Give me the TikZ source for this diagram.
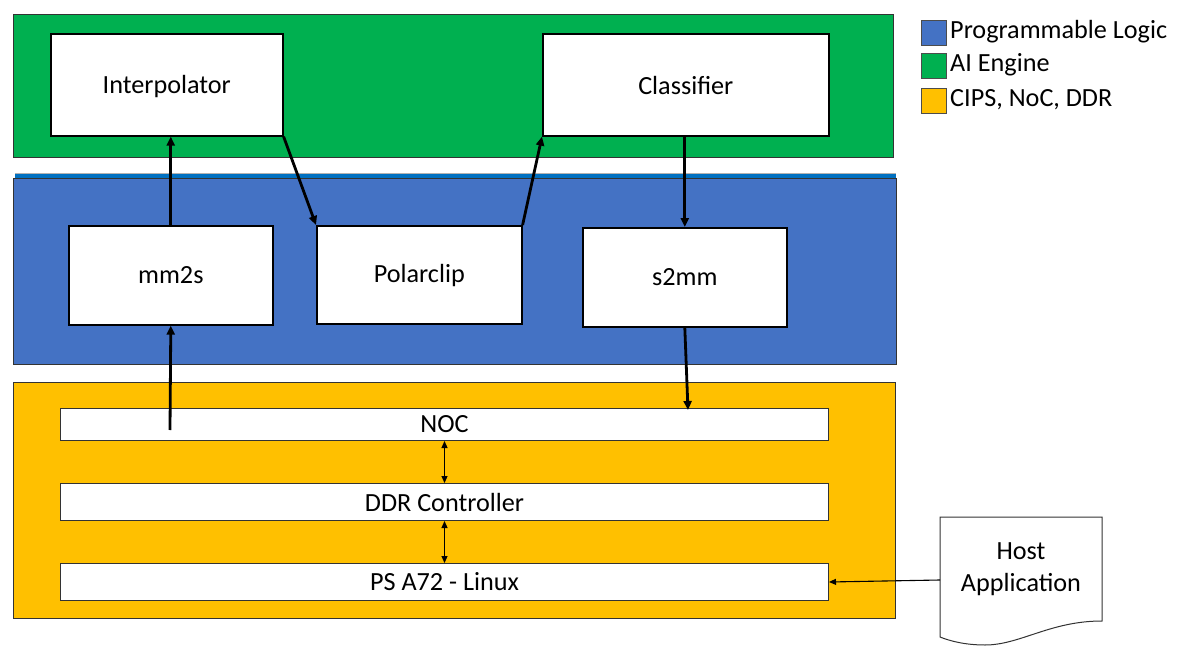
\documentclass[tikz,border=0pt]{standalone}
\usepackage{fontspec}
\setmainfont{Carlito}
\usetikzlibrary{arrows.meta}
\definecolor{aigreen}{HTML}{00B050}
\definecolor{plblue}{HTML}{4472C4}
\definecolor{stripblue}{HTML}{0070C0}
\definecolor{cipsyellow}{HTML}{FFC000}
\begin{document}
\begin{tikzpicture}[x=1pt,y=-1pt,
  every node/.style={font=\fontsize{26.2}{32}\selectfont},
  region/.style={draw=black!80,line width=1pt},
  blockbox/.style={draw=black,fill=white,line width=1.6pt,inner sep=0pt,anchor=north west},
  barbox/.style={draw=black!80,fill=white,line width=1pt,inner sep=0pt,anchor=north west},
  thickarrow/.style={line width=2.8pt,-{Triangle[length=9pt,width=8pt]}},
  thinarrow/.style={line width=1.1pt,-{Triangle[length=7pt,width=6pt]}},
  thinboth/.style={line width=1.1pt,{Triangle[length=7pt,width=6pt]}-{Triangle[length=7pt,width=6pt]}},
  legendsq/.style={draw=black!70,line width=1pt,minimum width=25pt,minimum height=25pt,inner sep=0pt,anchor=north west},
  legendtxt/.style={anchor=west,inner sep=0pt}]
\useasboundingbox (0,0) rectangle (1181,658);
% regions
\fill[white] (0,0) rectangle (1181,658);
\draw[region,fill=aigreen] (13,15) rectangle (893,158);
\fill[stripblue] (15,173) rectangle (896,179);
\draw[black!30,line width=0.6pt] (15,173) -- (896,173);
\draw[region,fill=plblue] (13,179) rectangle (896,364);
\draw[region,fill=cipsyellow] (13,382) rectangle (895,618);
% blocks
\node[blockbox,minimum width=232pt,minimum height=102pt] (interp) at (50,33) {};
\node at ([yshift=-1.5pt]interp.center) {Interpolator};
\node[blockbox,minimum width=286pt,minimum height=102pt] (classif) at (542,33) {};
\node at ([yshift=-1pt]classif.center) {Classifier};
\node[blockbox,minimum width=204pt,minimum height=99pt] (mm2s) at (68,225) {};
\node at (mm2s.center) {mm2s};
\node[blockbox,minimum width=205pt,minimum height=98pt] (polar) at (316,225) {};
\node at ([yshift=-1pt]polar.center) {Polarclip};
\node[blockbox,minimum width=204pt,minimum height=99pt] (s2mm) at (582,227) {};
\node at (s2mm.center) {s2mm};
\node[barbox,minimum width=768pt,minimum height=32pt] (noc) at (60,408) {};
\node at (noc.center) {NOC};
\node[barbox,minimum width=768pt,minimum height=37pt] (ddr) at (60,483) {};
\node at (ddr.center) {DDR Controller};
\node[barbox,minimum width=768pt,minimum height=37pt] (ps) at (60,563) {};
\node at (ps.center) {PS A72 - Linux};
% host application document
\coordinate (hostwest) at (940,580);
\draw[black!80,line width=1pt,fill=white] (940,517) -- (1102,517) -- (1102,621)
  .. controls (1050,621) and (1020,645) .. (985,645)
  .. controls (965,645) and (950,641) .. (940,637) -- cycle;
\node[align=center,inner sep=0pt] (host) at (1021,569) {Host\\Application};
% connectors
\coordinate (nocA) at (170,430);
\coordinate (nocB) at (688,410);
\draw[thickarrow] (mm2s.north) -- (interp.south -| mm2s.north);
\draw[thickarrow] (interp.south east) -- (polar.north west);
\draw[thickarrow] (polar.north east) -- (classif.south west);
\draw[thickarrow] (classif.south -| s2mm.north) -- (s2mm.north);
\draw[thickarrow] (s2mm.south) -- (nocB);
\draw[thickarrow] (nocA) -- (mm2s.south);
\draw[thinboth] (noc.south) -- (ddr.north);
\draw[thinboth] (ddr.south) -- (ps.north);
\draw[thinarrow] (hostwest) -- (ps.east);
% legend
\node[legendsq,fill=plblue] (lgpl) at (921,20) {};
\node[legendtxt] (lgpltxt) at (950,32) {Programmable Logic};
\node[legendsq,fill=aigreen] (lgai) at (921,53) {};
\node[legendtxt] (lgaitxt) at (950,65) {AI Engine};
\node[legendsq,fill=cipsyellow] (lgcips) at (921,88) {};
\node[legendtxt] (lgcipstxt) at (950,100) {CIPS, NoC, DDR};
\end{tikzpicture}
\end{document}
